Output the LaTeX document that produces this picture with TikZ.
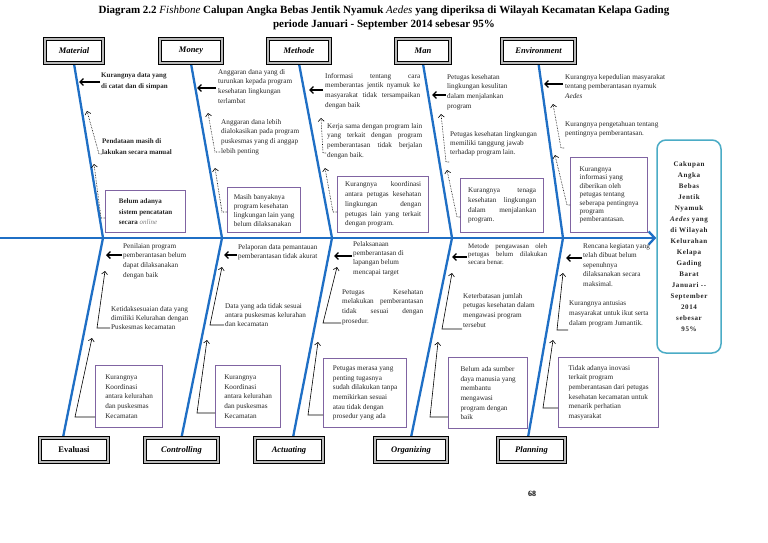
\documentclass[tikz,border=0pt]{standalone}
\usepackage{fontspec}
\setmainfont{Liberation Serif}
\newfontfamily\headfont{Liberation Serif}[LetterSpace=8]
\usetikzlibrary{arrows.meta,shadows,backgrounds}
\definecolor{boneblue}{HTML}{1F6FC5}
\definecolor{boxpurple}{HTML}{8064A2}
\definecolor{headblue}{HTML}{4BACC6}
\definecolor{txt}{HTML}{262626}
\newcommand\ctext{\fontsize{7.2}{9.7}\selectfont}
\newcommand\jl[2]{\makebox[#1pt][s]{#2}}
\newcommand\hitarrow[4]{\coordinate (#1s) at (#2,#4); \coordinate (#1e) at (#3,#4); \draw[hit] (#1s) -- (#1e);}
\newcommand\feedline[8]{\coordinate (#1a) at (#2,#3); \coordinate (#1b) at (#4,#5); \coordinate (#1c) at (#6,#7); \draw[#8] (#1a) -- (#1b) -- (#1c);}
\begin{document}
\begin{tikzpicture}[x=1pt,y=-1pt,
 bone/.style={draw=boneblue, line width=2.3pt},
 spine/.style={draw=boneblue, line width=2.3pt, -{Straight Barb[length=6pt,width=13pt]}},
 catbox/.style={fill=white, draw=black, line width=1.1pt, double=gray!55, double distance=1.8pt, minimum height=24pt, inner sep=0pt, font=\fontsize{8.5}{10}\selectfont\bfseries\itshape, general shadow={fill=black, shadow xshift=1.8pt, shadow yshift=-1.8pt}},
 cause/.style={anchor=north west, inner sep=0pt, align=left, font=\ctext, text=txt},
 causebox/.style={anchor=north west, draw=boxpurple, line width=1.3pt, inner sep=0pt, align=left, font=\ctext, text=txt, fill=white},
 hit/.style={draw=black, line width=1.3pt, -{Straight Barb[length=3.5pt,width=7pt]}},
 feedtop/.style={draw=black, line width=0.6pt, densely dotted, -{Straight Barb[length=3pt,width=6pt]}},
 feedbot/.style={draw=black, line width=0.6pt, -{Straight Barb[length=3pt,width=6pt]}},
 headbox/.style={draw=headblue, line width=1.5pt, rounded corners=9pt, minimum width=64pt, minimum height=213pt, align=center, font=\headfont\bfseries\fontsize{7}{11}\selectfont, inner sep=0pt, text=txt}
]
\useasboundingbox (0,0) rectangle (768,543);

% title
\node[align=center, font=\bfseries\fontsize{11}{13.5}\selectfont] (title) at (384,18)
 {Diagram 2.2 {\mdseries\itshape Fishbone} Calupan Angka Bebas Jentik Nyamuk {\mdseries\itshape Aedes} yang diperiksa di Wilayah Kecamatan Kelapa Gading\\periode Januari - September 2014 sebesar 95\%};

% head
\node[headbox] (head) at (689,246.5) {Cakupan\\Angka\\Bebas\\Jentik\\Nyamuk\\{\itshape Aedes} yang\\di Wilayah\\Kelurahan\\Kelapa\\Gading\\Barat\\Januari --\\September\\2014\\sebesar\\95\%};

% category boxes
\node[catbox, minimum width=58pt] (mat) at (74,51) {Material};
\node[catbox, minimum width=62pt] (mon) at (191,51) {Money};
\node[catbox, minimum width=62pt] (met) at (299,51) {Methode};
\node[catbox, minimum width=54pt] (man) at (423,51) {Man};
\node[catbox, minimum width=73pt] (env) at (538.5,51) {Environment};
\node[catbox, minimum width=68pt, font=\fontsize{8.5}{10}\selectfont\bfseries] (eva) at (74,450) {Evaluasi};
\node[catbox, minimum width=73pt] (con) at (181.5,450) {Controlling};
\node[catbox, minimum width=68pt] (act) at (289,450) {Actuating};
\node[catbox, minimum width=72pt] (org) at (411,450) {Organizing};
\node[catbox, minimum width=67pt] (pla) at (531.5,450) {Planning};

% spine and bones (behind the boxes)
\coordinate (tail) at (0,238);
\coordinate (j1) at (103,238);
\coordinate (j2) at (222,238);
\coordinate (j3) at (332,238);
\coordinate (j4) at (452,238);
\coordinate (j5) at (563,238);
\begin{scope}[on background layer]
\fill[white] (0,0) rectangle (768,543);
\draw[spine] (tail) -- (tail -| head.west);
\draw[bone] (mat.south) -- (j1);
\draw[bone] (mon.south) -- (j2);
\draw[bone] (met.south) -- (j3);
\draw[bone] (man.south) -- (j4);
\draw[bone] (env.south) -- (j5);
\draw[bone] ([xshift=-11pt]eva.north) -- (j1);
\draw[bone] (con.north) -- (j2);
\draw[bone] ([xshift=4pt]act.north) -- (j3);
\draw[bone] (org.north) -- (j4);
\draw[bone] ([xshift=-3.5pt]pla.north) -- (j5);
\end{scope}

% ---- top causes
\node[cause, font=\bfseries\fontsize{7}{11}\selectfont] (mt1) at (101,72) {Kurangnya data yang\\di catat dan di simpan};
\node[cause, font=\bfseries\fontsize{7}{11}\selectfont] (mt2) at (102,138) {Pendataan masih di\\lakukan secara manual};
\node[causebox, minimum width=80pt, minimum height=42pt, font=\bfseries\fontsize{7}{10.5}\selectfont] (mtb) at (105,190) {Belum adanya\\sistem pencatatan\\secara {\mdseries\itshape\color{gray}online}};

\node[cause] (mo1) at (218,69) {Anggaran dana yang di\\turunkan kepada program\\kesehatan lingkungan\\terlambat};
\node[cause] (mo2) at (221,119) {Anggaran dana lebih\\dialokasikan pada program\\puskesmas yang di anggap\\lebih penting};
\node[causebox, minimum width=73pt, minimum height=45pt, font=\fontsize{7.2}{9}\selectfont] (mob) at (227,187) {Masih banyaknya\\program kesehatan\\lingkungan lain yang\\belum dilaksanakan};

\node[cause] (me1) at (325,73) {\jl{95}{Informasi tentang cara}\\\jl{95}{memberantas jentik nyamuk ke}\\\jl{95}{masyarakat tidak tersampaikan}\\dengan baik};
\node[cause] (me2) at (327,123) {\jl{95}{Kerja sama dengan program lain}\\\jl{95}{yang terkait dengan program}\\\jl{95}{pemberantasan tidak berjalan}\\dengan baik.};
\node[causebox, minimum width=91pt, minimum height=56pt] (meb) at (337,176) {\jl{76}{Kurangnya koordinasi}\\\jl{76}{antara petugas kesehatan}\\\jl{76}{lingkungan dengan}\\\jl{76}{petugas lain yang terkait}\\dengan program.};

\node[cause] (ma1) at (447,74) {Petugas kesehatan\\lingkungan kesulitan\\dalam menjalankan\\program};
\node[cause, font=\fontsize{7.2}{9}\selectfont] (ma2) at (450,131) {Petugas kesehatan lingkungan\\memiliki tanggung jawab\\terhadap program lain.};
\node[causebox, minimum width=83pt, minimum height=54pt] (mab) at (460,178) {\jl{68}{Kurangnya tenaga}\\\jl{68}{kesehatan lingkungan}\\\jl{68}{dalam menjalankan}\\program.};

\node[cause] (en1) at (565,74) {Kurangnya kepedulian masyarakat\\tentang pemberantasan nyamuk\\\textit{Aedes}};
\node[cause] (en2) at (565,121) {Kurangnya pengetahuan tentang\\pentingnya pemberantasan.};
\node[causebox, minimum width=77pt, minimum height=75pt, font=\fontsize{7.2}{8.4}\selectfont] (enb) at (570,157) {Kurangnya\\informasi yang\\diberikan oleh\\petugas tentang\\seberapa pentingnya\\program\\pemberantasan.};

% ---- bottom causes
\node[cause] (ev1) at (123,243) {Penilaian program\\pemberantasan belum\\dapat dilaksanakan\\dengan baik};
\node[cause, font=\fontsize{7.2}{9}\selectfont] (ev2) at (111,306) {Ketidaksesuaian data yang\\dimiliki Kelurahan dengan\\Puskesmas kecamatan};
\node[causebox, minimum width=67pt, minimum height=62pt] (evb) at (95,365) {Kurangnya\\Koordinasi\\antara kelurahan\\dan puskesmas\\Kecamatan};

\node[cause] (co1) at (238,244) {Pelaporan data pemantauan\\pemberantasan tidak akurat};
\node[cause, font=\fontsize{7.2}{9}\selectfont] (co2) at (225,303) {Data yang ada tidak sesuai\\antara puskesmas kelurahan\\dan kecamatan};
\node[causebox, minimum width=65pt, minimum height=62pt] (cob) at (215,365) {Kurangnya\\Koordinasi\\antara kelurahan\\dan puskesmas\\Kecamatan};

\node[cause, font=\fontsize{7.2}{9.3}\selectfont] (ac1) at (353,241) {Pelaksanaan\\pemberantasan di\\lapangan belum\\mencapai target};
\node[cause] (ac2) at (342,289) {\jl{81}{Petugas Kesehatan}\\\jl{81}{melakukan pemberantasan}\\\jl{81}{tidak sesuai dengan}\\prosedur.};
\node[causebox, minimum width=83pt, minimum height=69pt] (acb) at (323,358) {Petugas merasa yang\\penting tugasnya\\sudah dilakukan tanpa\\memikirkan sesuai\\atau tidak dengan\\prosedur yang ada};

\node[cause, font=\fontsize{6.9}{7.7}\selectfont] (or1) at (468,244) {\jl{79}{Metode pengawasan oleh}\\\jl{79}{petugas belum dilakukan}\\secara benar.};
\node[cause] (or2) at (463,293) {Keterbatasan jumlah\\petugas kesehatan dalam\\mengawasi program\\tersebut};
\node[causebox, minimum width=79pt, minimum height=71pt] (orb) at (448,357) {Belum ada sumber\\daya manusia yang\\membantu\\mengawasi\\program dengan\\baik};

\node[cause, font=\fontsize{7.2}{9.5}\selectfont] (pl1) at (583,243) {Rencana kegiatan yang\\telah dibuat belum\\sepenuhnya\\dilaksanakan secara\\maksimal.};
\node[cause] (pl2) at (569,301) {Kurangnya antusias\\masyarakat untuk ikut serta\\dalam program Jumantik.};
\node[causebox, minimum width=100pt, minimum height=70pt] (plb) at (558,357) {Tidak adanya inovasi\\terkait program\\pemberantasan dari petugas\\kesehatan kecamatan untuk\\menarik perhatian\\masyarakat};

% ---- arrows to bones
\hitarrow{hmt}{100}{79}{82}
\hitarrow{hmo}{216}{197}{88}
\hitarrow{hme}{323}{309}{90}
\hitarrow{hma}{446}{432}{95}
\hitarrow{hen}{563}{544}{84}
\hitarrow{hev}{122}{106}{255}
\hitarrow{hco}{237}{224}{255}
\hitarrow{hac}{352}{334}{256}
\hitarrow{hor}{467}{452}{257}
\hitarrow{hpl}{582}{566}{258}

% ---- feeding connectors
\feedline{fmt}{102}{154}{99}{154}{87}{111}{feedtop}
\feedline{fmb}{105}{218}{101}{218}{94}{164}{feedtop}
\feedline{fo2}{220}{152}{215}{152}{208}{113}{feedtop}
\feedline{fob}{227}{212}{222}{212}{215}{168}{feedtop}
\feedline{fe2}{326}{153}{323}{153}{321}{118}{feedtop}
\feedline{feb}{337}{212}{333}{212}{325}{168}{feedtop}
\feedline{fa2}{449}{162}{446}{162}{441}{114}{feedtop}
\feedline{fab}{460}{217}{457}{217}{447}{170}{feedtop}
\feedline{fn2}{564}{148}{561}{148}{553}{104}{feedtop}
\feedline{fnb}{570}{205}{567}{205}{555}{155}{feedtop}

\feedline{fv2}{110}{328}{97}{328}{105}{271}{feedbot}
\feedline{fvb}{95}{417}{75}{417}{92}{338}{feedbot}
\feedline{fc2}{224}{325}{210}{325}{222}{267}{feedbot}
\feedline{fcb}{215}{413}{197}{413}{207}{340}{feedbot}
\feedline{fa2b}{341}{323}{323}{323}{337}{267}{feedbot}
\feedline{fab2}{323}{415}{308}{415}{318}{342}{feedbot}
\feedline{fr2}{462}{329}{442}{329}{452}{273}{feedbot}
\feedline{frb}{448}{417}{430}{417}{438}{342}{feedbot}
\feedline{fp2}{568}{330}{557}{330}{563}{273}{feedbot}
\feedline{fpb}{558}{408}{543}{408}{553}{340}{feedbot}

% page number
\node[font=\bfseries\fontsize{8}{9}\selectfont] (pg) at (532,494) {68};
\end{tikzpicture}
\end{document}
